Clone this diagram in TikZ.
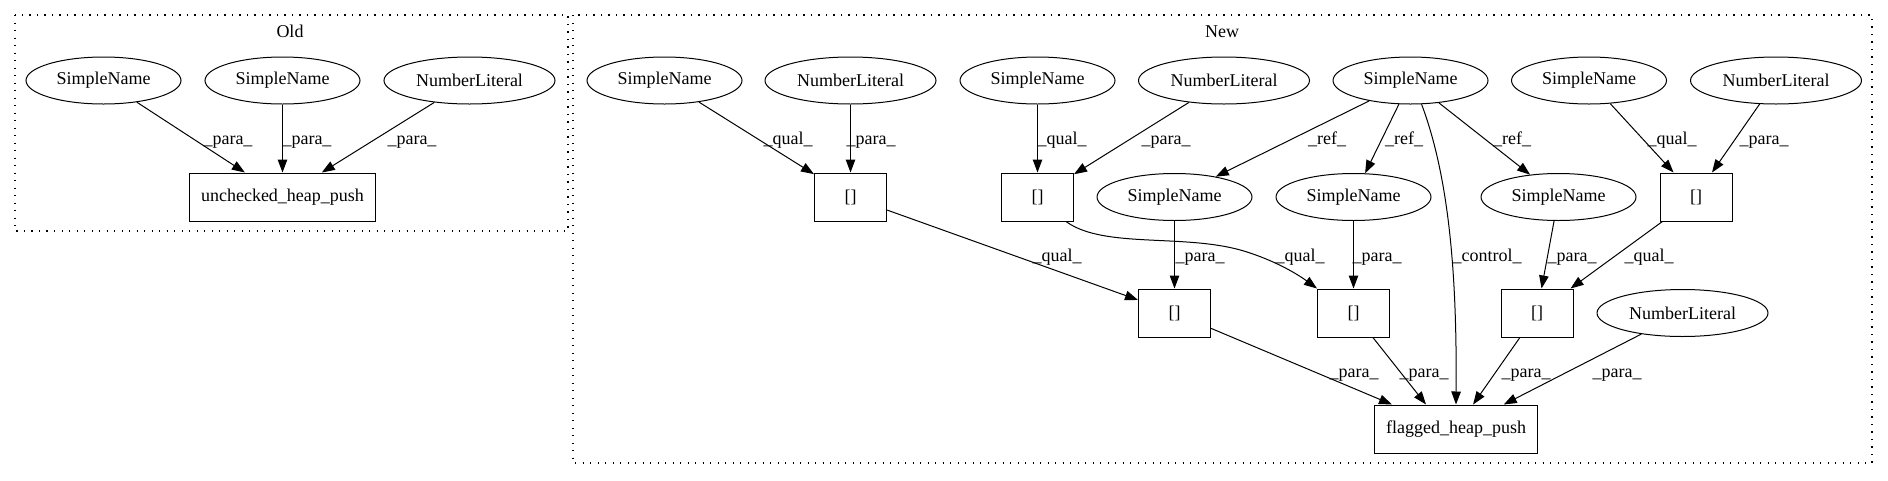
\documentclass[tikz,border=0pt]{standalone}
\usepackage{fontspec}
\setmainfont{Liberation Serif}
\usepackage{tikz}
\usetikzlibrary{shapes,arrows.meta,positioning,calc}

\begin{document}
\begin{tikzpicture}[x=1pt, y=-1pt,
  every node/.style={font=\fontsize{18}{20}\selectfont},
  sname/.style={draw, ellipse, line width=1pt, inner sep=0pt, minimum width=155pt, minimum height=47pt},
  nlit/.style={sname, minimum width=171pt},
  sqbox/.style={draw, rectangle, line width=1pt, inner xsep=12pt, minimum width=72pt, minimum height=48pt},
  arr/.style={line width=1pt, -{Triangle[length=13pt,width=9.5pt]}},
  lbl/.style={anchor=base, inner sep=0pt},
  cluster/.style={line width=1.1pt, dash pattern=on 1.1pt off 6.4pt}]
\useasboundingbox (0,0) rectangle (1888,480);
\draw[cluster] (15,15) rectangle (568,231);
\draw[cluster] (573,15) rectangle (1872,463);
\node[anchor=base] (oldlbl) at (290,37) {Old};
\node[anchor=base] (newlbl) at (1222,37) {New};
\node[sname] (o1) at (103.5,80.5) {SimpleName};
\node[sname] (o2) at (282.5,80.5) {SimpleName};
\node[nlit] (o3) at (469.5,80.5) {NumberLiteral};
\node[sqbox] (ou) at (282.5,197) {unchecked\_heap\_push};
\draw[arr] (o1) -- (ou) node[lbl] at (228,144.5) {\_para\_};
\draw[arr] (o2) -- (ou) node[lbl] at (307,144.5) {\_para\_};
\draw[arr] (o3) -- (ou) node[lbl] at (412,144.5) {\_para\_};
\node[sname] (sna) at (664.5,80.5) {SimpleName};
\node[nlit] (nla) at (850.5,80.5) {NumberLiteral};
\node[sname] (snb) at (1037.5,80.5) {SimpleName};
\node[nlit] (nlb) at (1224,80.5) {NumberLiteral};
\node[sname] (snt) at (1410.5,80.5) {SimpleName};
\node[sname] (snd) at (1589,80.5) {SimpleName};
\node[nlit] (nld) at (1776,80.5) {NumberLiteral};
\node[sqbox] (b1) at (850.5,197) {[]};
\node[sqbox] (b2) at (1037.5,197) {[]};
\node[sname] (snc) at (1174.5,197) {SimpleName};
\node[sname] (sne) at (1353.5,197) {SimpleName};
\node[sname] (snf) at (1558.5,197) {SimpleName};
\node[sqbox] (b5) at (1696,197) {[]};
\node[sqbox] (b3) at (1174.5,313) {[]};
\node[sqbox] (b4) at (1353.5,313) {[]};
\node[sqbox] (b6) at (1537,313) {[]};
\node[nlit] (nlg) at (1682.5,313) {NumberLiteral};
\node[sqbox] (flag) at (1456,429) {flagged\_heap\_push};
\draw[arr] (sna) -- (b1) node[lbl] at (788,144.5) {\_qual\_};
\draw[arr] (nla) -- (b1) node[lbl] at (871,144.5) {\_para\_};
\draw[arr] (snb) -- (b2) node[lbl] at (1062,144.5) {\_qual\_};
\draw[arr] (nlb) -- (b2) node[lbl] at (1166,144.5) {\_para\_};
\draw[arr] (snt) -- (snc) node[lbl] at (1327,144.5) {\_ref\_};
\draw[arr] (snt) -- (sne) node[lbl] at (1404,144.5) {\_ref\_};
\draw[arr] (snt) -- (snf) node[lbl] at (1512,144.5) {\_ref\_};
\draw[arr] (snd) -- (b5) node[lbl] at (1672,144.5) {\_qual\_};
\draw[arr] (nld) -- ([xshift=16pt]b5.north) node[lbl] at (1764,144.5) {\_para\_};
\draw[arr] (b1) -- (b3) node[lbl] at (1057,261.5) {\_qual\_};
\draw[arr] (snc) -- (b3) node[lbl] at (1200,261.5) {\_para\_};
\draw[arr] ([xshift=-8pt]b2.south east) .. controls (1105,250) and (1190,232) .. (1250,253)
  .. controls (1280,263) and (1300,276) .. (b4.north west) node[lbl] at (1300,261.5) {\_qual\_};
\draw[arr] (sne) -- (b4) node[lbl] at (1377,261.5) {\_para\_};
\draw[arr] (snt.-65) .. controls (1450,180) and (1457,280) .. (flag.north) node[lbl] at (1487,261.5) {\_control\_};
\draw[arr] (snf) -- (b6) node[lbl] at (1572,261.5) {\_para\_};
\draw[arr] (b5) -- (b6) node[lbl] at (1649,261.5) {\_qual\_};
\draw[arr] (b3) -- ([xshift=-64pt]flag.north) node[lbl] at (1354,377.5) {\_para\_};
\draw[arr] (b4) -- ([xshift=-30pt]flag.north) node[lbl] at (1424,377.5) {\_para\_};
\draw[arr] (b6) -- (flag) node[lbl] at (1526,377.5) {\_para\_};
\draw[arr] (nlg) -- (flag) node[lbl] at (1617,377.5) {\_para\_};
\end{tikzpicture}
\end{document}
